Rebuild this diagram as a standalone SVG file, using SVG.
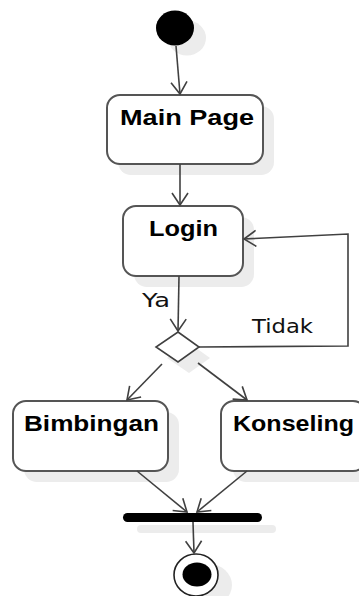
<svg xmlns="http://www.w3.org/2000/svg" width="359" height="596" viewBox="0 0 359 596">
<style>
.sh{fill:#ececec;stroke:none}
.box{fill:#ffffff;stroke:#555555;stroke-width:2}
.lbl{font-family:"Liberation Sans",Arial,sans-serif;font-weight:bold;font-size:22px;fill:#000}
.txt{font-family:"DejaVu Sans","Liberation Sans",sans-serif;font-size:20px;fill:#111}
.con{fill:none;stroke:#404040;stroke-width:1.6}
</style>
<defs>
<marker id="arr" markerUnits="userSpaceOnUse" markerWidth="16" markerHeight="20" refX="13" refY="9" orient="auto">
<path d="M1,1 L13,9 L1,17" fill="none" stroke="#404040" stroke-width="1.6"/>
</marker>
</defs>
<rect width="359" height="596" fill="#ffffff"/>
<g id="start">
<ellipse class="sh" cx="187" cy="38" rx="19" ry="17.5"/>
<ellipse cx="175" cy="28" rx="19" ry="17.5" fill="#000"/>
</g>
<g id="mainpage">
<rect class="sh" x="118" y="106" width="156" height="69" rx="13"/>
<rect class="box" x="107" y="95" width="156" height="69" rx="13"/>
<text class="lbl" x="120" y="125" textLength="134" lengthAdjust="spacingAndGlyphs">Main Page</text>
</g>
<g id="login">
<rect class="sh" x="134" y="217" width="120" height="70" rx="13"/>
<rect class="box" x="123" y="206" width="120" height="70" rx="13"/>
<text class="lbl" x="149" y="236" textLength="69" lengthAdjust="spacingAndGlyphs">Login</text>
</g>
<g id="decision">
<polygon class="sh" points="189,343 210,358 189,373 167,358"/>
<polygon points="178,332 199,347 178,362 156,347" fill="#fff" stroke="#404040" stroke-width="1.6"/>
</g>
<g id="bimbingan">
<rect class="sh" x="24" y="412" width="155" height="70" rx="13"/>
<rect class="box" x="13" y="401" width="155" height="70" rx="13"/>
<text class="lbl" x="24" y="431" textLength="135" lengthAdjust="spacingAndGlyphs">Bimbingan</text>
</g>
<g id="konseling">
<rect class="sh" x="233" y="412" width="145" height="70" rx="13"/>
<rect class="box" x="221" y="401" width="145" height="70" rx="13"/>
<text class="lbl" x="233" y="431" textLength="121" lengthAdjust="spacingAndGlyphs">Konseling</text>
</g>
<g id="join">
<rect class="sh" x="137" y="525" width="139" height="8" rx="4"/>
<rect x="123" y="513" width="139" height="9" rx="4.5" fill="#000"/>
</g>
<g id="end">
<ellipse class="sh" cx="209" cy="585" rx="23" ry="21"/>
<ellipse cx="196" cy="575" rx="22" ry="21" fill="#fff" stroke="#222" stroke-width="1.6"/>
<ellipse cx="197" cy="574.5" rx="14.5" ry="12" fill="#000"/>
</g>
<g id="connectors">
<line class="con" x1="176" y1="46" x2="180" y2="94" marker-end="url(#arr)"/>
<line class="con" x1="180" y1="164" x2="180" y2="205" marker-end="url(#arr)"/>
<line class="con" x1="179" y1="276" x2="178" y2="331" marker-end="url(#arr)"/>
<polyline class="con" points="199,347 348,346 348,234 244,239" marker-end="url(#arr)"/>
<line class="con" x1="162" y1="364" x2="127" y2="400" marker-end="url(#arr)"/>
<line class="con" x1="198" y1="363" x2="247" y2="400" marker-end="url(#arr)"/>
<line class="con" x1="137" y1="471" x2="187" y2="512" marker-end="url(#arr)"/>
<line class="con" x1="247" y1="471" x2="197" y2="512" marker-end="url(#arr)"/>
<line class="con" x1="193" y1="522" x2="194" y2="553" marker-end="url(#arr)"/>
<text class="txt" x="142" y="307" textLength="28" lengthAdjust="spacingAndGlyphs">Ya</text>
<text class="txt" x="252" y="333" textLength="61" lengthAdjust="spacingAndGlyphs">Tidak</text>
</g>
</svg>
